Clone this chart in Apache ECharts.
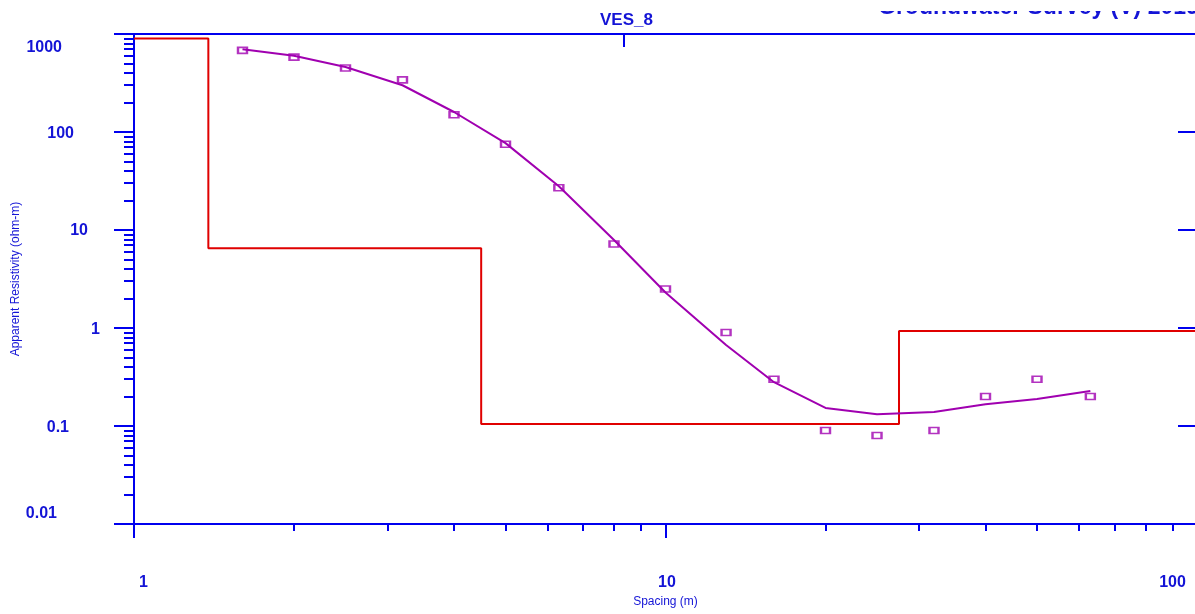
<!DOCTYPE html>
<html>
<head>
<meta charset="utf-8">
<script src="https://cdn.jsdelivr.net/npm/echarts@6/dist/echarts.min.js"></script>
<style>html,body{margin:0;padding:0;background:#fff}#c{width:1195px;height:614px}</style>
</head>
<body>
<div id="c"></div>
<script>
// ---- data ----
const spacing = [1.6, 2, 2.5, 3.2, 4, 5, 6.3, 8, 10, 13, 16, 20, 25, 32, 40, 50, 63];
const observedRho = [680, 580, 450, 340, 150, 75, 27, 7.2, 2.5, 0.9, 0.3, 0.09, 0.08, 0.09, 0.2, 0.3, 0.2];
const fittedRho = [700, 600, 460, 300, 160, 77, 28, 7.9, 2.3, 0.67, 0.28, 0.153, 0.132, 0.139, 0.167, 0.189, 0.228];
const layerRho = [900, 6.5, 0.105, 0.93];
const layerBottom = [1.38, 4.5, 27.5];
const xTickValues = [1, 10, 100];
const xTickLabels = ['1', '10', '100'];
const yTickValues = [0.01, 0.1, 1, 10, 100, 1000];
const yTickLabels = ['0.01', '0.1', '1', '10', '100', '1000'];
const minorMult = [2, 3, 4, 5, 6, 7, 8, 9];
const xDecades = [1, 10];
const yDecades = [0.01, 0.1, 1, 10, 100];
const rightTickValues = [0.1, 1, 10, 100];
const topTickValues = [8.36];
const titleText = 'VES_8';
const headerText = 'Groundwater Survey (V) 2019';

// ---- build ----
const xMinor = [];
xDecades.forEach(d => minorMult.forEach(m => xMinor.push(+(d * m).toPrecision(6))));
const yMinor = [];
yDecades.forEach(d => minorMult.forEach(m => yMinor.push(+(d * m).toPrecision(6))));

const obsData = spacing.map((x, i) => [x, observedRho[i]]);
const fitData = spacing.map((x, i) => [x, fittedRho[i]]);
const layerData = [[1, layerRho[0]]];
layerBottom.forEach((b, i) => layerData.push([b, layerRho[i + 1]]));
layerData.push([100, layerRho[layerRho.length - 1]]);

const BLUE = '#0000ee';
const TXT = '#1414d6';
const lbl = { fontFamily: 'Liberation Sans', fontWeight: 'bold', fontSize: 16, color: TXT };

function findIdx(arr, v) {
  return arr.findIndex(t => Math.abs(Math.log10(t) - Math.log10(v)) < 1e-6);
}

const yRich = {
  y0: Object.assign({ padding: [0, 77, 20, 0] }, lbl),
  y1: Object.assign({ padding: [4, 65, 0, 0] }, lbl),
  y2: Object.assign({ padding: [4, 34, 0, 0] }, lbl),
  y3: Object.assign({ padding: [2, 46, 0, 0] }, lbl),
  y4: Object.assign({ padding: [4, 60, 0, 0] }, lbl),
  y5: Object.assign({ padding: [28, 72, 0, 0] }, lbl)
};
const xRich = {
  x0: Object.assign({ padding: [0, 0, 0, 19] }, lbl),
  x1: Object.assign({ padding: [0, 0, 0, 3] }, lbl),
  x2: Object.assign({ padding: [0, 49, 0, 0] }, lbl)
};

const lineAxis = { show: true, lineStyle: { color: BLUE, width: 2 } };

const chart = echarts.init(document.getElementById('c'), null, { renderer: 'canvas' });
chart.setOption({
  animation: false,
  backgroundColor: '#fff',
  title: {
    text: titleText, left: 595, top: 7,
    textStyle: { fontFamily: 'Liberation Sans', fontWeight: 'bold', fontSize: 17, color: TXT }
  },
  grid: { left: 134, right: -2, top: 34, bottom: 90, containLabel: false, outerBoundsMode: 'none' },
  xAxis: [
    {
      type: 'log', logBase: 10, min: 1, max: 100, position: 'bottom',
      axisLine: lineAxis,
      axisTick: { show: true, length: 14, lineStyle: { color: BLUE, width: 2 }, customValues: xTickValues },
      axisLabel: {
        show: true, margin: 51, customValues: xTickValues,
        formatter: v => { const i = findIdx(xTickValues, v); return '{x' + i + '|' + xTickLabels[i] + '}'; },
        rich: xRich
      },
      splitLine: { show: false }, minorTick: { show: false },
      name: 'Spacing (m)', nameLocation: 'middle', nameGap: 72, nameMoveOverlap: false,
      nameTextStyle: { fontFamily: 'Liberation Sans', fontSize: 12, color: TXT }
    },
    {
      type: 'log', logBase: 10, min: 1, max: 100, position: 'bottom',
      axisLine: { show: false },
      axisTick: { show: true, length: 7, lineStyle: { color: BLUE, width: 2 }, customValues: xMinor },
      axisLabel: { show: false }, splitLine: { show: false }
    },
    {
      type: 'log', logBase: 10, min: 1, max: 100, position: 'top',
      axisLine: lineAxis,
      axisTick: { show: true, inside: true, length: 13, lineStyle: { color: BLUE, width: 2 }, customValues: topTickValues },
      axisLabel: { show: false }, splitLine: { show: false }
    }
  ],
  yAxis: [
    {
      type: 'log', logBase: 10, min: 0.01, max: 1000, position: 'left',
      axisLine: lineAxis,
      axisTick: { show: true, length: 20, lineStyle: { color: BLUE, width: 2 }, customValues: yTickValues },
      axisLabel: {
        show: true, margin: 0, customValues: yTickValues,
        formatter: v => { const i = findIdx(yTickValues, v); return '{y' + i + '|' + yTickLabels[i] + '}'; },
        rich: yRich
      },
      splitLine: { show: false },
      name: 'Apparent Resistivity (ohm-m)', nameLocation: 'middle', nameGap: 112, nameMoveOverlap: false,
      nameTextStyle: { fontFamily: 'Liberation Sans', fontSize: 12, color: TXT }
    },
    {
      type: 'log', logBase: 10, min: 0.01, max: 1000, position: 'left',
      axisLine: { show: false },
      axisTick: { show: true, length: 10, lineStyle: { color: BLUE, width: 2 }, customValues: yMinor },
      axisLabel: { show: false }, splitLine: { show: false }
    },
    {
      type: 'log', logBase: 10, min: 0.01, max: 1000, position: 'right',
      axisLine: lineAxis,
      axisTick: { show: true, inside: true, length: 19, lineStyle: { color: BLUE, width: 2 }, customValues: rightTickValues },
      axisLabel: { show: false }, splitLine: { show: false }
    }
  ],
  series: [
    {
      name: 'Model', type: 'line', step: 'end', data: layerData,
      xAxisIndex: 0, yAxisIndex: 0, showSymbol: false, symbol: 'none',
      lineStyle: { color: '#e00000', width: 2 }, z: 2
    },
    {
      name: 'Fitted', type: 'line', data: fitData,
      xAxisIndex: 0, yAxisIndex: 0, showSymbol: false, symbol: 'none', smooth: false,
      lineStyle: { color: '#a000b0', width: 2 }, z: 3
    },
    {
      name: 'Observed', type: 'scatter', data: obsData,
      xAxisIndex: 0, yAxisIndex: 0, symbol: 'rect', symbolSize: [9, 6],
      itemStyle: { color: 'rgba(255,255,255,0)', borderColor: '#a000b0', borderWidth: 2 }, z: 4
    }
  ],
  graphic: [
    {
      type: 'text', id: 'hdr', x: 878, y: -4, z: 50, z2: 1,
      style: { text: headerText, x: 0, y: 0, fontFamily: 'Liberation Sans', fontWeight: 'bold', fontSize: 23, fill: TXT, verticalAlign: 'top' }
    },
    {
      type: 'rect', id: 'hdrMask', x: 860, y: 0, z: 60, z2: 100,
      shape: { x: 0, y: 0, width: 340, height: 11 }, style: { fill: '#ffffff' }
    }
  ]
});
</script>
</body>
</html>
